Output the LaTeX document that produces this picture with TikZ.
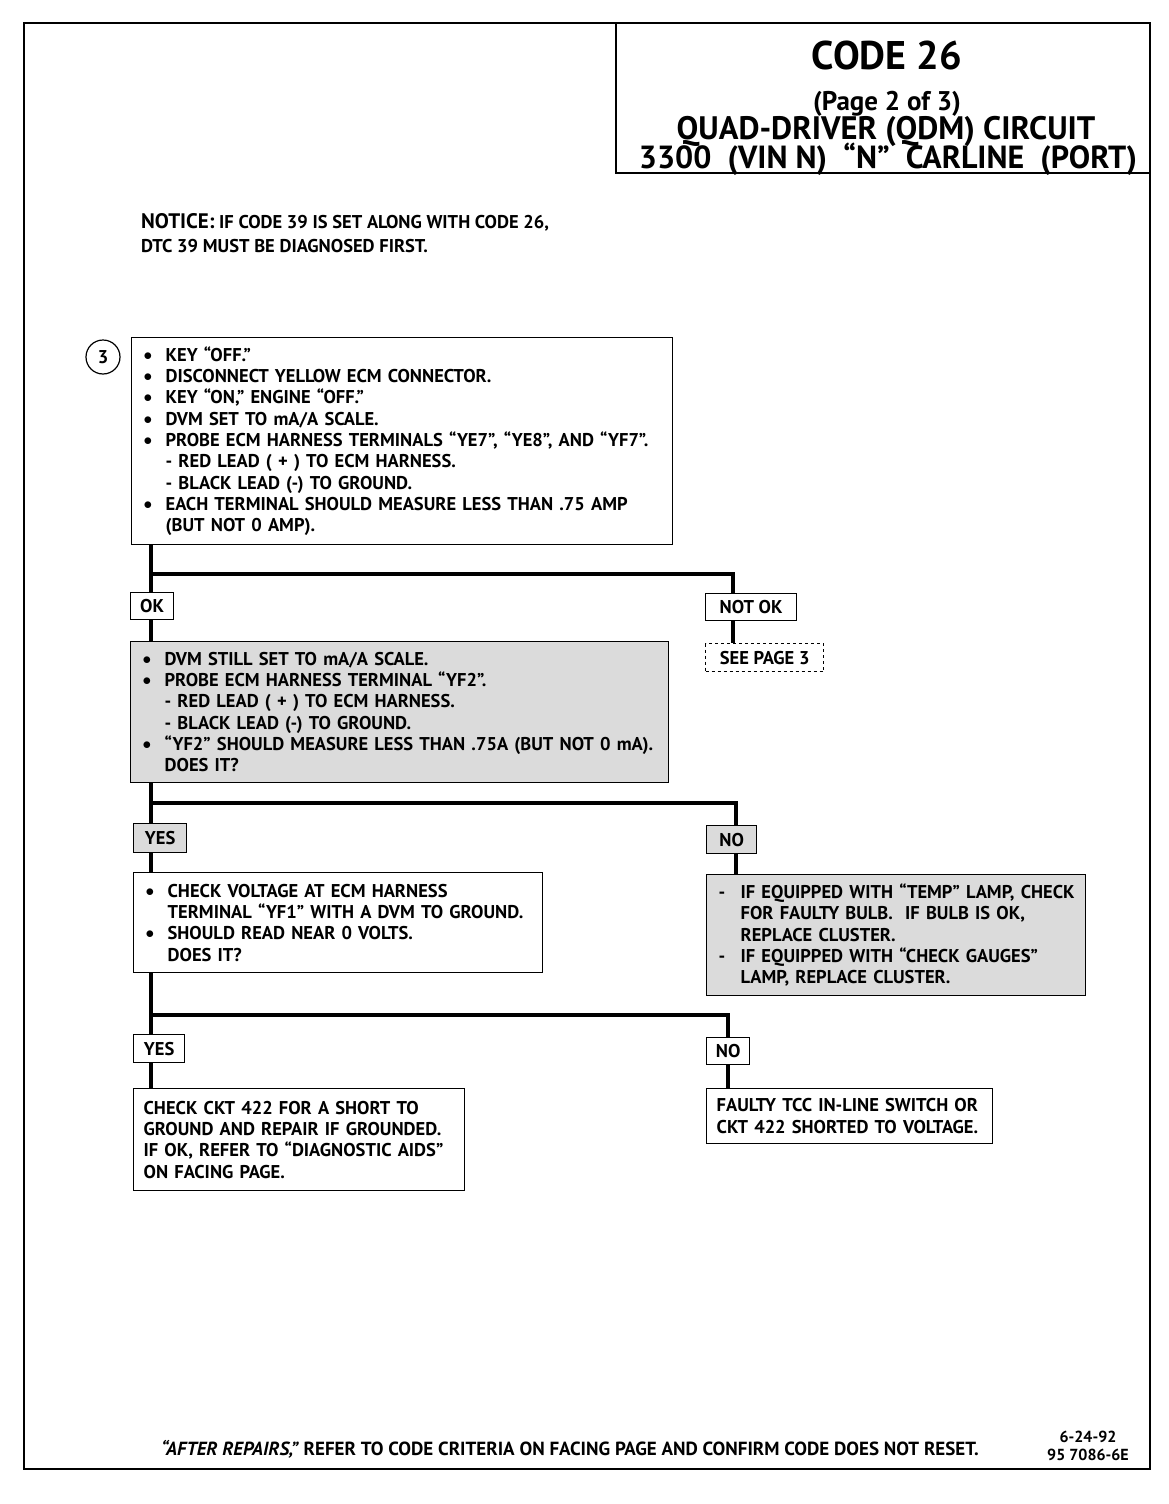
\documentclass[tikz,border=0pt]{standalone}
\usepackage{fontspec}
\setmainfont{PT Sans}
\usetikzlibrary{positioning}
\newcommand{\bodyfont}{\fontsize{18.5}{21.3}\selectfont\bfseries}
\newcommand{\bul}{\makebox[24pt][l]{\hspace{2pt}\raisebox{1pt}{$\bullet$}}}
\newcommand{\dsh}{\makebox[24pt][l]{\hspace{2pt}-}}
\newcommand{\ind}{\makebox[24pt]{}}
\begin{document}
\begin{tikzpicture}[
  x=1pt, y=-1pt,
  box/.style={draw, line width=1.3pt, anchor=north west, inner xsep=10pt, inner ysep=0pt, align=left, font=\bodyfont},
  shaded/.style={box, fill=black!14},
  tag/.style={draw, line width=1.3pt, anchor=north west, inner sep=0pt, font=\bodyfont},
  trunk/.style={line width=4.5pt}
]
\useasboundingbox (0,0) rectangle (1168,1504);
\draw[line width=2.5pt] (24,23) rectangle (1150,1469);
\draw[line width=1.8pt] (616,23) |- (1150,173);

\node[anchor=base, font=\fontsize{40}{42}\bfseries] (code) at (887,70) {CODE 26};
\node[anchor=base, font=\fontsize{27}{28}\bfseries] (page) at (887,110) {(Page 2 of 3)};
\node[anchor=base, font=\fontsize{32.5}{34}\bfseries] (qdm) at (886,139) {QUAD-DRIVER (QDM) CIRCUIT};
\node[anchor=base, font=\fontsize{32}{33}\bfseries] (vin) at (888,168) {3300\ \ (VIN N)\ \ “N”\ \ CARLINE\ \ (PORT)};

\node[anchor=north west, align=left, inner sep=0pt, font=\fontsize{18.5}{24}\bfseries] (notice) at (141,213)
  {{\fontsize{21}{24}\selectfont NOTICE:} IF CODE 39 IS SET ALONG WITH CODE 26,\\ DTC 39 MUST BE DIAGNOSED FIRST.};

\node[draw, circle, line width=1.2pt, minimum size=34pt, inner sep=0pt, font=\bodyfont] (three) at (103,357) {3};

\node[box, text width=521pt, minimum height=207pt] (b1) at (131,337)
  {\bul KEY “OFF.”\\
   \bul DISCONNECT YELLOW ECM CONNECTOR.\\
   \bul KEY “ON,” ENGINE “OFF.”\\
   \bul DVM SET TO mA/A SCALE.\\
   \bul PROBE ECM HARNESS TERMINALS “YE7”, “YE8”, AND “YF7”.\\
   \ind - RED LEAD ( + ) TO ECM HARNESS.\\
   \ind - BLACK LEAD (-) TO GROUND.\\
   \bul EACH TERMINAL SHOULD MEASURE LESS THAN .75 AMP\\
   \ind (BUT NOT 0 AMP).};

\node[tag, minimum width=43pt, minimum height=27pt] (ok) at (130,592) {OK};
\node[tag, minimum width=91pt, minimum height=27pt] (nok) at (705,593) {NOT OK};
\node[tag, dashed, minimum width=118pt, minimum height=28pt] (see) at (705,643) {SEE PAGE 3};

\node[shaded, text width=518pt, minimum height=141pt] (b2) at (130,641)
  {\bul DVM STILL SET TO mA/A SCALE.\\
   \bul PROBE ECM HARNESS TERMINAL “YF2”.\\
   \ind - RED LEAD ( + ) TO ECM HARNESS.\\
   \ind - BLACK LEAD (-) TO GROUND.\\
   \bul “YF2” SHOULD MEASURE LESS THAN .75A (BUT NOT 0 mA).\\
   \ind DOES IT?};

\node[tag, fill=black!14, minimum width=53pt, minimum height=29pt] (yes1) at (133,823) {YES};
\node[tag, fill=black!14, minimum width=50pt, minimum height=28pt] (no1) at (706,825) {NO};

\node[box, text width=389pt, minimum height=100pt] (b3) at (133,872)
  {\bul CHECK VOLTAGE AT ECM HARNESS\\
   \ind TERMINAL “YF1” WITH A DVM TO GROUND.\\
   \bul SHOULD READ NEAR 0 VOLTS.\\
   \ind DOES IT?};
\node[shaded, text width=359pt, minimum height=121pt] (b4) at (706,874)
  {\dsh IF EQUIPPED WITH “TEMP” LAMP, CHECK\\
   \ind FOR FAULTY BULB.\ \ IF BULB IS OK,\\
   \ind REPLACE CLUSTER.\\
   \dsh IF EQUIPPED WITH “CHECK GAUGES”\\
   \ind LAMP, REPLACE CLUSTER.};

\node[tag, minimum width=51pt, minimum height=28pt] (yes2) at (133,1034) {YES};
\node[tag, minimum width=43pt, minimum height=27pt] (no2) at (706,1037) {NO};

\node[box, text width=311pt, minimum height=102pt] (b5) at (133,1088)
  {CHECK CKT 422 FOR A SHORT TO\\
   GROUND AND REPAIR IF GROUNDED.\\
   IF OK, REFER TO “DIAGNOSTIC AIDS”\\
   ON FACING PAGE.};
\node[box, text width=266pt, minimum height=55pt] (b6) at (706,1088)
  {FAULTY TCC IN-LINE SWITCH OR\\
   CKT 422 SHORTED TO VOLTAGE.};

\coordinate (t1) at (151,574);
\coordinate (r1) at (733,574);
\coordinate (t2) at (151,803);
\coordinate (r2) at (736,803);
\coordinate (t3) at (151,1015);
\coordinate (r3) at (728,1015);

\draw[trunk] (b1.south -| t1) -- (ok.north -| t1);
\draw[trunk] (t1) -| (nok.north -| r1);
\draw[trunk] (ok.south -| t1) -- (b2.north -| t1);
\draw[trunk] (nok.south -| r1) -- (see.north -| r1);
\draw[trunk] (b2.south -| t2) -- (yes1.north -| t2);
\draw[trunk] (t2) -| (no1.north -| r2);
\draw[trunk] (yes1.south -| t2) -- (b3.north -| t2);
\draw[trunk] (no1.south -| r2) -- (b4.north -| r2);
\draw[trunk] (b3.south -| t3) -- (yes2.north -| t3);
\draw[trunk] (t3) -| (no2.north -| r3);
\draw[trunk] (yes2.south -| t3) -- (b5.north -| t3);
\draw[trunk] (no2.south -| r3) -- (b6.north -| r3);

\node[font=\fontsize{19}{20}\bfseries] (after) at (570,1449)
  {\textit{“AFTER REPAIRS,”} REFER TO CODE CRITERIA ON FACING PAGE AND CONFIRM CODE DOES NOT RESET.};
\node[align=center, font=\fontsize{16}{18}\bfseries] (date) at (1088,1446) {6-24-92\\95 7086-6E};
\end{tikzpicture}
\end{document}
